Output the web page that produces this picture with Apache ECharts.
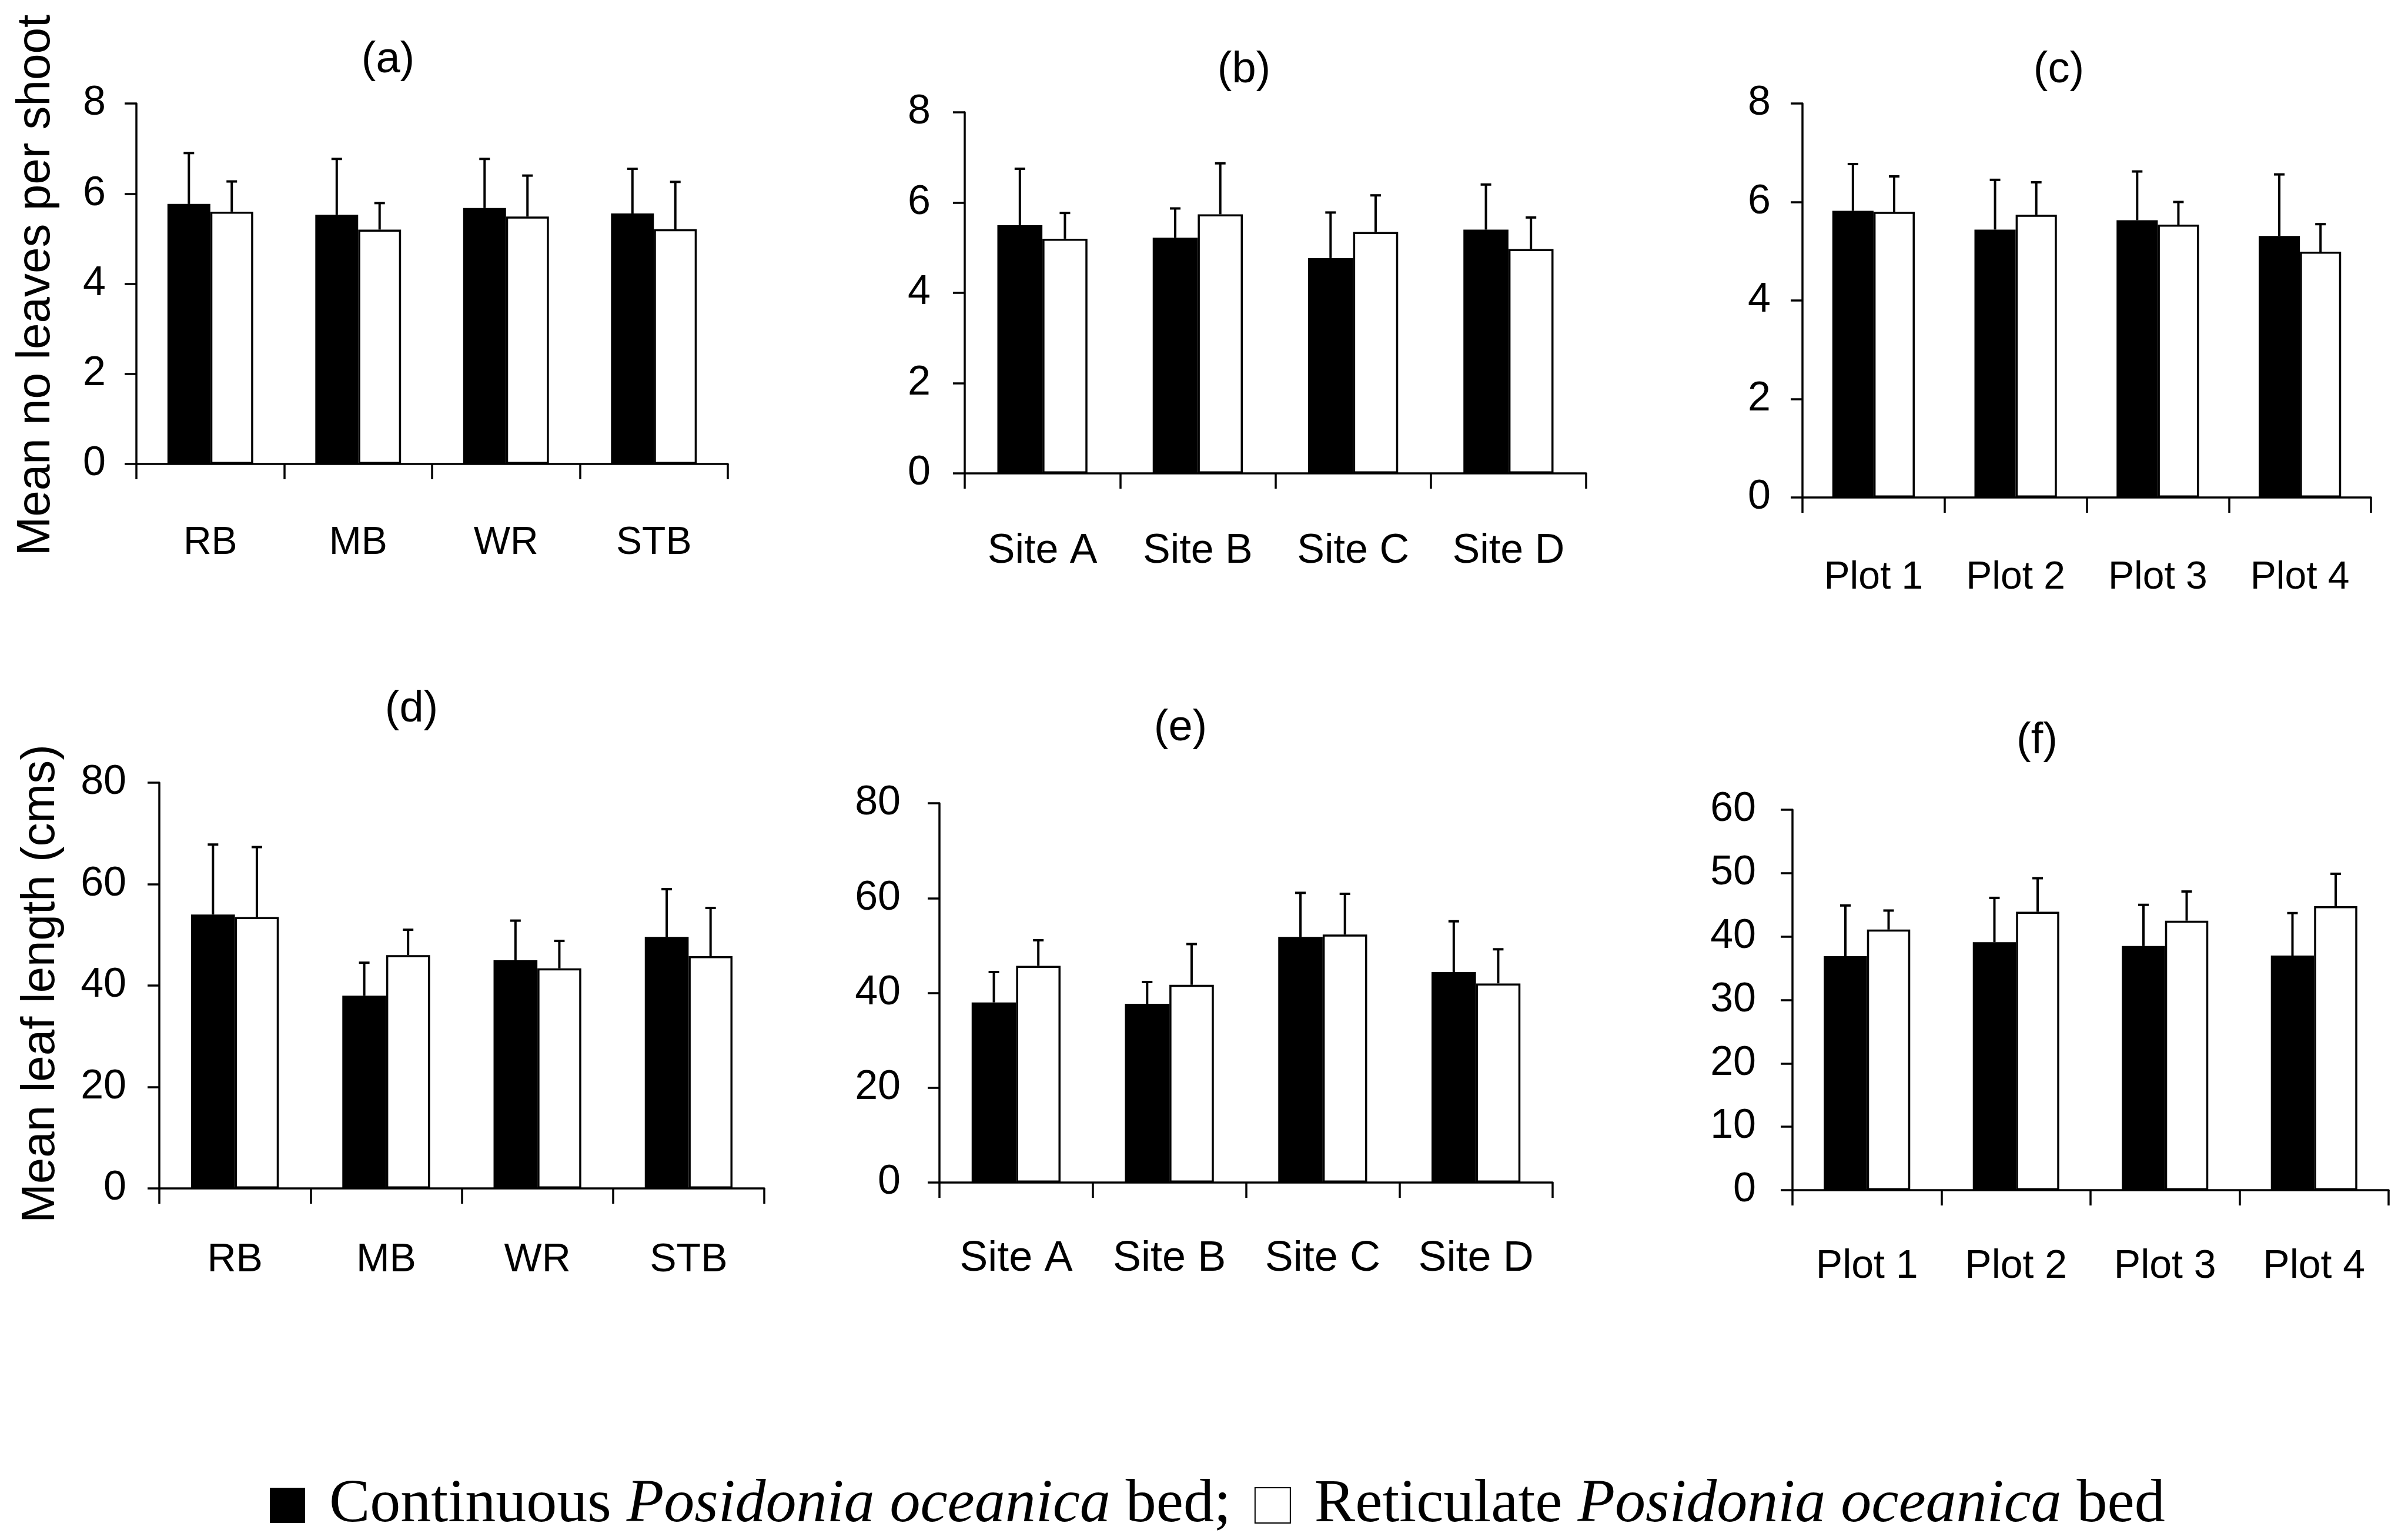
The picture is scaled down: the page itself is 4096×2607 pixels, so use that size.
<!DOCTYPE html>
<html>
<head>
<meta charset="utf-8">
<script src="https://cdn.jsdelivr.net/npm/echarts/dist/echarts.min.js"></script>
<style>
html,body{margin:0;padding:0;background:#fff;}
#chart{width:4096px;height:2607px;}
</style>
</head>
<body>
<div id="chart"></div>
<script>
// ---------- DATA ----------
const catsHabitat = ['RB', 'MB', 'WR', 'STB'];
const catsSite = ['Site A', 'Site B', 'Site C', 'Site D'];
const catsPlot = ['Plot 1', 'Plot 2', 'Plot 3', 'Plot 4'];

// (a) leaves per shoot by habitat
const leavesHabCont = [5.77, 5.53, 5.68, 5.56];
const leavesHabContErr = [1.13, 1.24, 1.09, 0.99];
const leavesHabRet = [5.60, 5.20, 5.49, 5.21];
const leavesHabRetErr = [0.67, 0.59, 0.91, 1.05];
// (b) leaves per shoot by site
const leavesSiteCont = [5.50, 5.22, 4.77, 5.40];
const leavesSiteContErr = [1.25, 0.65, 1.01, 1.00];
const leavesSiteRet = [5.20, 5.74, 5.35, 4.97];
const leavesSiteRetErr = [0.57, 1.13, 0.81, 0.70];
// (c) leaves per shoot by plot
const leavesPlotCont = [5.82, 5.44, 5.63, 5.31];
const leavesPlotContErr = [0.95, 1.01, 0.99, 1.25];
const leavesPlotRet = [5.80, 5.74, 5.54, 4.99];
const leavesPlotRetErr = [0.72, 0.66, 0.46, 0.56];
// (d) leaf length by habitat
const lengthHabCont = [54.0, 38.0, 45.0, 49.6];
const lengthHabContErr = [13.8, 6.5, 7.8, 9.4];
const lengthHabRet = [53.5, 46.0, 43.4, 45.8];
const lengthHabRetErr = [13.8, 5.0, 5.4, 9.5];
// (e) leaf length by site
const lengthSiteCont = [38.0, 37.7, 51.8, 44.4];
const lengthSiteContErr = [6.4, 4.6, 9.3, 10.7];
const lengthSiteRet = [45.7, 41.7, 52.3, 42.0];
const lengthSiteRetErr = [5.4, 8.6, 8.6, 7.2];
// (f) leaf length by plot
const lengthPlotCont = [36.9, 39.1, 38.5, 37.0];
const lengthPlotContErr = [8.0, 7.0, 6.5, 6.7];
const lengthPlotRet = [41.1, 43.9, 42.5, 44.8];
const lengthPlotRetErr = [3.0, 5.3, 4.6, 5.1];

const yTicksLeaves = {min: 0, max: 8, interval: 2};
const yTicksLengthA = {min: 0, max: 80, interval: 20};
const yTicksLengthB = {min: 0, max: 60, interval: 10};

const panelTitles = ['(a)', '(b)', '(c)', '(d)', '(e)', '(f)'];
const yTitleTop = 'Mean no leaves per shoot';
const yTitleBottom = 'Mean leaf length (cms)';
const seriesNames = ['Continuous Posidonia oceanica bed', 'Reticulate Posidonia oceanica bed'];

// ---------- LAYOUT ----------
const panels = [
  {cats: catsHabitat, c: leavesHabCont, ce: leavesHabContErr, r: leavesHabRet, re: leavesHabRetErr, y: yTicksLeaves,
   grid: {left: 232, top: 176, width: 1006, height: 613}, xm: 102, ym: 52, xf: 66, title: [660, 103]},
  {cats: catsSite, c: leavesSiteCont, ce: leavesSiteContErr, r: leavesSiteRet, re: leavesSiteRetErr, y: yTicksLeaves,
   grid: {left: 1641, top: 191, width: 1057, height: 614}, xm: 98, ym: 58, xf: 70, title: [2116, 120]},
  {cats: catsPlot, c: leavesPlotCont, ce: leavesPlotContErr, r: leavesPlotRet, re: leavesPlotRetErr, y: yTicksLeaves,
   grid: {left: 3066, top: 176, width: 967, height: 670}, xm: 104, ym: 54, xf: 66, title: [3502, 120]},
  {cats: catsHabitat, c: lengthHabCont, ce: lengthHabContErr, r: lengthHabRet, re: lengthHabRetErr, y: yTicksLengthA,
   grid: {left: 271, top: 1331, width: 1029, height: 690}, xm: 88, ym: 56, xf: 68, title: [700, 1207]},
  {cats: catsSite, c: lengthSiteCont, ce: lengthSiteContErr, r: lengthSiteRet, re: lengthSiteRetErr, y: yTicksLengthA,
   grid: {left: 1598, top: 1366, width: 1043, height: 645}, xm: 94, ym: 66, xf: 72, title: [2008, 1239]},
  {cats: catsPlot, c: lengthPlotCont, ce: lengthPlotContErr, r: lengthPlotRet, re: lengthPlotRetErr, y: yTicksLengthB,
   grid: {left: 3049, top: 1377, width: 1014, height: 647}, xm: 96, ym: 62, xf: 68, title: [3465, 1261]}
];

const SANS = '"Liberation Sans", Arial, sans-serif';
const SERIF = '"Liberation Serif", "Times New Roman", serif';
const BAR_FRAC = 0.29;

function errRender(side) {
  return function (params, api) {
    const i = api.value(0);
    const base = api.coord([i, api.value(1)]);
    const top = api.coord([i, api.value(2)]);
    const bw = api.size([1, 0])[0] * BAR_FRAC;
    const x = base[0] + side * bw / 2;
    return {
      type: 'group',
      children: [
        {type: 'line', shape: {x1: x, y1: base[1], x2: x, y2: top[1]}, style: {stroke: '#000', lineWidth: 4}},
        {type: 'line', shape: {x1: x - 9, y1: top[1], x2: x + 9, y2: top[1]}, style: {stroke: '#000', lineWidth: 4}}
      ]
    };
  };
}

const grids = [], xAxes = [], yAxes = [], series = [], graphics = [];
panels.forEach((p, gi) => {
  grids.push(Object.assign({containLabel: false}, p.grid));
  xAxes.push({
    type: 'category', gridIndex: gi, data: p.cats,
    axisLine: {lineStyle: {color: '#000', width: 3.5}},
    axisTick: {show: true, length: 26, inside: false, lineStyle: {color: '#000', width: 3.5}},
    axisLabel: {color: '#000', fontFamily: SANS, fontSize: p.xf, margin: p.xm, interval: 0},
    splitLine: {show: false}
  });
  yAxes.push({
    type: 'value', gridIndex: gi, min: p.y.min, max: p.y.max, interval: p.y.interval,
    axisLine: {show: true, lineStyle: {color: '#000', width: 3.5}},
    axisTick: {show: true, length: 20, lineStyle: {color: '#000', width: 3.5}},
    axisLabel: {color: '#000', fontFamily: SANS, fontSize: 70, margin: p.ym},
    splitLine: {show: false}
  });
  series.push({
    name: seriesNames[0], type: 'bar', xAxisIndex: gi, yAxisIndex: gi, data: p.c,
    barWidth: (BAR_FRAC * 100) + '%', barGap: '0%',
    itemStyle: {color: '#000', borderColor: '#000', borderWidth: 0}, silent: true
  });
  series.push({
    name: seriesNames[1], type: 'bar', xAxisIndex: gi, yAxisIndex: gi, data: p.r,
    barWidth: (BAR_FRAC * 100) + '%', barGap: '0%',
    itemStyle: {color: '#fff', borderColor: '#000', borderWidth: 3.5}, silent: true
  });
  series.push({
    type: 'custom', xAxisIndex: gi, yAxisIndex: gi, z: 3, silent: true,
    data: p.c.map((m, i) => [i, m, m + p.ce[i]]), renderItem: errRender(-1)
  });
  series.push({
    type: 'custom', xAxisIndex: gi, yAxisIndex: gi, z: 3, silent: true,
    data: p.r.map((m, i) => [i, m, m + p.re[i]]), renderItem: errRender(1)
  });
  graphics.push({
    type: 'text', x: p.title[0], y: p.title[1],
    style: {text: panelTitles[gi], fill: '#000', font: '74px ' + SANS, textAlign: 'center', textVerticalAlign: 'middle'}
  });
});

graphics.push({
  type: 'text', x: 62, y: 485, rotation: Math.PI / 2,
  style: {text: yTitleTop, fill: '#000', font: '80px ' + SANS, textAlign: 'center', textVerticalAlign: 'middle'}
});
graphics.push({
  type: 'text', x: 70, y: 1673, rotation: Math.PI / 2,
  style: {text: yTitleBottom, fill: '#000', font: '80px ' + SANS, textAlign: 'center', textVerticalAlign: 'middle'}
});

const option = {
  backgroundColor: '#fff',
  animation: false,
  grid: grids,
  xAxis: xAxes,
  yAxis: yAxes,
  series: series,
  graphic: graphics,
  legend: {
    data: seriesNames,
    left: 454, top: 2534 - 31,
    itemWidth: 60, itemHeight: 60, itemGap: 40,
    icon: 'rect',
    selectedMode: false,
    textStyle: {
      color: '#000', fontFamily: SERIF, fontSize: 104,
      rich: {
        sp: {width: 36},
        n: {fontFamily: SERIF, fontSize: 104, color: '#000'},
        i: {fontFamily: SERIF, fontSize: 104, fontStyle: 'italic', color: '#000'}
      }
    },
    formatter: function (name) {
      if (name === seriesNames[0]) return '{sp|}{n|Continuous }{i|Posidonia oceanica}{n| bed;}';
      return '{sp|}{n|Reticulate }{i|Posidonia oceanica}{n| bed}';
    }
  }
};

const chart = echarts.init(document.getElementById('chart'), null, {renderer: 'canvas'});
chart.setOption(option);
</script>
</body>
</html>
